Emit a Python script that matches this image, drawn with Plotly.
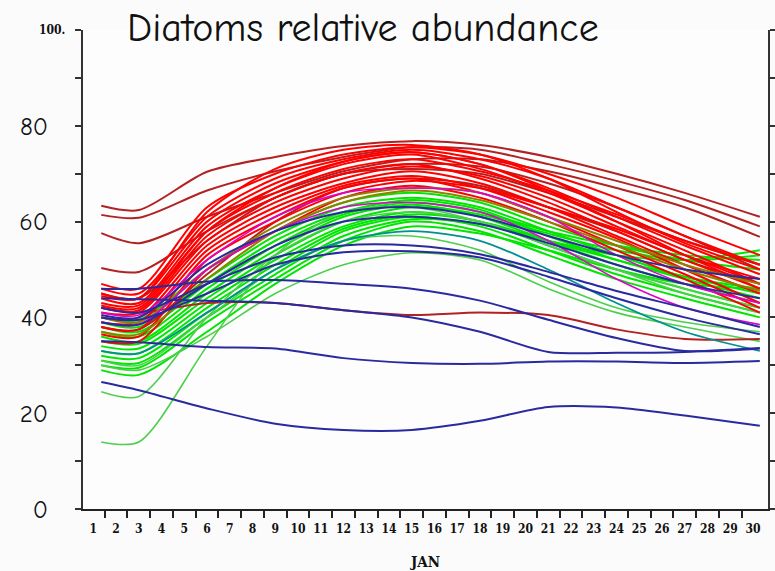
import plotly.graph_objects as go

# Forecast days (January) at which each ensemble member is sampled
DAYS = [1.35, 3, 6, 9, 12, 15, 18, 21, 24, 27, 30.3]

# Ensemble members, relative abundance (%) at each of DAYS
DARK_RED = [
    [63.3, 62.4, 70.4, 73.5, 75.8, 76.8, 76.0, 73.5, 70.0, 66.0, 61.0],
    [61.4, 60.8, 66.5, 70.5, 73.5, 75.5, 75.0, 72.0, 68.5, 64.5, 59.0],
    [57.6, 55.5, 61.0, 66.0, 70.5, 73.0, 73.0, 70.5, 67.0, 63.0, 56.8],
    [50.3, 49.5, 58.0, 65.0, 70.0, 72.0, 71.5, 68.0, 63.0, 57.0, 50.0],
    [45.0, 44.0, 56.0, 65.0, 70.0, 71.0, 70.0, 66.0, 61.0, 56.0, 51.0],
    [38.0, 37.5, 49.0, 60.0, 67.0, 69.0, 67.5, 63.0, 58.0, 52.0, 47.0],
    [42.0, 41.0, 43.0, 43.0, 41.5, 40.5, 41.0, 40.5, 37.5, 35.5, 35.5],
]
RED = [
    [47.0, 46.0, 63.0, 70.0, 74.0, 75.5, 74.0, 70.0, 65.0, 59.0, 53.0],
    [46.0, 45.0, 61.0, 69.0, 73.0, 75.0, 73.0, 69.0, 63.0, 57.0, 51.0],
    [45.0, 44.0, 60.0, 68.0, 72.5, 74.5, 72.0, 67.0, 61.0, 55.0, 49.0],
    [44.0, 43.0, 59.0, 67.0, 72.0, 74.0, 71.0, 66.0, 60.0, 54.0, 47.0],
    [43.0, 42.5, 58.0, 66.0, 71.0, 73.0, 70.5, 66.5, 61.5, 56.0, 51.0],
    [42.0, 41.5, 57.0, 65.0, 70.0, 72.0, 69.0, 64.0, 58.0, 52.0, 46.0],
    [41.0, 41.0, 56.0, 64.0, 69.0, 71.5, 69.5, 65.0, 59.0, 53.0, 48.0],
    [40.0, 40.0, 55.0, 63.0, 68.0, 70.5, 68.0, 63.0, 57.0, 51.0, 45.0],
    [39.0, 39.0, 54.0, 62.0, 67.5, 69.5, 67.0, 62.0, 56.5, 50.0, 43.0],
    [38.0, 37.5, 53.0, 61.0, 67.0, 69.0, 66.0, 61.0, 55.0, 49.0, 42.0],
    [36.5, 36.0, 52.0, 60.0, 66.0, 68.5, 67.0, 63.0, 58.5, 53.0, 47.0],
    [35.0, 35.0, 50.0, 58.0, 65.0, 67.5, 65.0, 60.0, 54.0, 48.0, 41.0],
    [44.5, 44.0, 62.0, 71.0, 75.0, 76.0, 74.0, 69.0, 62.0, 55.5, 50.0],
    [42.5, 42.0, 58.0, 67.0, 72.5, 74.5, 72.0, 66.5, 60.0, 53.0, 46.0],
]
OLIVE = [
    [40.0, 39.0, 50.0, 59.0, 65.0, 67.0, 66.0, 61.0, 56.0, 51.0, 47.0],
    [37.0, 36.5, 48.0, 58.0, 64.0, 66.5, 64.5, 60.0, 55.0, 50.0, 45.5],
]
GREEN = [
    [40.0, 39.5, 50.0, 58.0, 64.0, 66.0, 64.0, 59.0, 55.0, 52.0, 50.0],
    [39.0, 38.0, 48.0, 57.0, 63.0, 65.0, 63.0, 58.0, 53.0, 48.5, 46.0],
    [38.0, 37.0, 47.0, 56.0, 62.0, 64.5, 62.5, 57.0, 52.0, 48.0, 44.0],
    [37.0, 36.0, 46.0, 55.0, 61.5, 64.0, 62.0, 58.0, 55.0, 53.0, 52.0],
    [36.0, 35.0, 45.0, 54.0, 61.0, 63.5, 61.0, 56.0, 51.0, 47.0, 43.0],
    [35.0, 34.5, 44.0, 53.0, 60.0, 63.0, 61.5, 57.5, 54.0, 52.0, 53.0],
    [34.0, 33.5, 43.0, 52.0, 59.0, 62.0, 60.0, 55.0, 50.0, 46.0, 42.0],
    [33.0, 32.5, 42.0, 51.0, 58.5, 61.5, 60.0, 56.0, 52.0, 48.5, 45.0],
    [32.0, 31.5, 41.0, 50.0, 58.0, 61.0, 59.0, 54.0, 49.0, 45.0, 41.0],
    [31.0, 30.5, 40.0, 49.0, 57.0, 60.5, 59.5, 56.0, 53.0, 52.0, 54.0],
    [30.0, 29.5, 39.0, 48.0, 56.0, 60.0, 58.0, 53.0, 48.0, 44.0, 40.0],
    [29.0, 28.0, 37.0, 47.0, 55.0, 59.0, 57.5, 54.0, 50.0, 47.0, 46.0],
]
LIGHT_GREEN = [
    [30.0, 29.0, 36.0, 45.0, 51.0, 53.5, 52.0, 46.0, 41.0, 38.0, 35.0],
    [31.0, 30.0, 40.0, 50.0, 56.0, 57.0, 54.0, 47.5, 42.0, 39.0, 37.0],
    [24.5, 23.5, 40.0, 53.0, 60.0, 62.0, 60.0, 55.0, 50.0, 45.0, 41.0],
    [14.0, 14.0, 34.0, 53.0, 62.0, 63.0, 60.0, 55.0, 50.0, 46.0, 42.0],
]
MAGENTA = [
    [41.0, 40.5, 52.0, 61.0, 66.0, 67.0, 66.0, 61.0, 53.0, 47.0, 43.0],
    [39.0, 38.5, 50.0, 58.0, 63.0, 64.0, 62.0, 56.0, 48.0, 42.0, 38.5],
]
TEAL = [
    [33.0, 32.5, 41.0, 50.0, 56.0, 58.0, 56.0, 50.0, 43.0, 37.0, 33.0],
]
BLUE = [
    [26.5, 24.8, 21.0, 17.8, 16.5, 16.5, 18.4, 21.3, 21.2, 19.5, 17.4],
    [35.0, 34.8, 33.8, 33.5, 31.5, 30.5, 30.3, 30.8, 30.8, 30.5, 30.9],
    [44.0, 43.8, 43.5, 43.0, 41.5, 40.0, 37.0, 32.8, 32.6, 32.8, 33.6],
    [46.0, 46.0, 47.5, 47.8, 47.0, 46.0, 43.5, 39.5, 35.7, 33.0, 33.5],
    [42.0, 41.0, 47.0, 52.5, 55.0, 55.0, 53.2, 49.5, 45.5, 42.0, 38.0],
    [40.0, 39.5, 45.0, 51.0, 53.6, 53.8, 52.5, 48.5, 44.0, 40.0, 36.5],
    [39.0, 38.5, 47.0, 55.0, 60.0, 61.0, 59.5, 55.5, 51.0, 47.0, 44.0],
    [40.5, 40.0, 51.0, 58.0, 62.0, 63.0, 61.0, 57.0, 53.0, 50.0, 48.0],
]

DAY_LABELS = [str(d) for d in range(1, 31)]
Y_TICKS = [0, 20, 40, 60, 80, 100]
Y_LABELS = ["0", "20", "40", "60", "80", ""]

# Drawing order, colour and width of each member group
GROUPS = [
    (GREEN, "#00e600", 2.0),
    (LIGHT_GREEN, "#4ccf4c", 1.6),
    (DARK_RED, "#b22222", 2.0),
    (RED, "#ff0000", 2.0),
    (OLIVE, "#8c8400", 2.0),
    (MAGENTA, "#e000d0", 1.6),
    (TEAL, "#009090", 1.8),
    (BLUE, "#2a2aa0", 2.0),
]

fig = go.Figure()
for members, color, width in GROUPS:
    for values in members:
        fig.add_trace(go.Scatter(
            x=DAYS, y=values, mode="lines",
            line=dict(color=color, width=width, shape="spline", smoothing=0.8),
            hoverinfo="skip", showlegend=False,
        ))

comic = "Comic Sans MS, Comic Neue, Noto Sans, sans-serif"
grads = "DejaVu Serif Condensed, DejaVu Serif, serif"
label_font = dict(family=comic, size=25, color="#111111")
grads_font = dict(family=grads, size=12, color="#111111", weight="bold")

fig.update_layout(
    width=775, height=571,
    margin=dict(l=83, r=7, t=30, b=62),
    paper_bgcolor="#fbfbfb",
    plot_bgcolor="#fdfdfd",
    showlegend=False,
    title=dict(
        text="Diatoms relative abundance",
        x=127 / 775, xanchor="left", xref="container",
        y=1 - 27 / 571, yanchor="middle", yref="container",
        font=dict(family=comic, size=40, color="#111111"),
    ),
    xaxis=dict(
        range=[0.547, 30.66], automargin=False,
        tickmode="array", tickvals=list(range(1, 31)), ticktext=DAY_LABELS,
        ticks="", tickfont=grads_font, ticklabelstandoff=8,
        minor=dict(tickmode="array", tickvals=[d + 0.5 for d in range(1, 30)],
                   ticks="outside", ticklen=7, tickwidth=1.5, tickcolor="#222222"),
        showline=True, linecolor="#222222", linewidth=2,
        showgrid=False, zeroline=False,
        title=dict(text="JAN", font=dict(family=grads, size=15, color="#111111", weight="bold"),
                   standoff=22),
    ),
    yaxis=dict(
        range=[0, 100], automargin=False,
        tickmode="array", tickvals=Y_TICKS, ticktext=Y_LABELS,
        ticks="outside", ticklen=6, tickwidth=1.5, tickcolor="#333333",
        ticklabelstandoff=22, tickfont=label_font,
        minor=dict(tickmode="array", tickvals=[10, 30, 50, 70, 90],
                   ticks="outside", ticklen=6, tickwidth=1.5, tickcolor="#333333"),
        showline=True, linecolor="#333333", linewidth=2, mirror="ticks",
        showgrid=False, zeroline=False,
    ),
)

# Top-of-scale label in the plotting package's own small font
fig.add_annotation(
    x=0, xref="paper", xanchor="right", xshift=-16,
    y=100, yref="y", yanchor="middle",
    text="100.", showarrow=False,
    font=dict(family=grads, size=12, color="#111111", weight="bold"),
)

fig.write_html("out.html")
